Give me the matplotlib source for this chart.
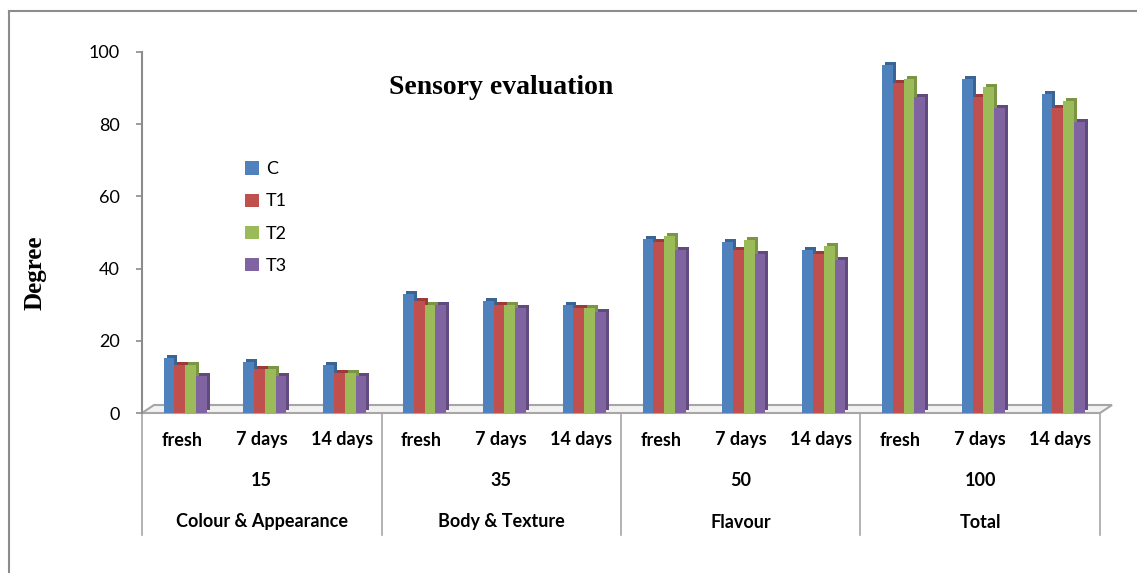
import matplotlib
matplotlib.use('Agg')
import matplotlib.pyplot as plt
import matplotlib.transforms as mtransforms
from matplotlib.lines import Line2D
from matplotlib.patches import Polygon
import numpy as np

# Sensory scores
groups = ['Colour & Appearance', 'Body & Texture', 'Flavour', 'Total']
max_scores = ['15', '35', '50', '100']
periods = ['fresh', '7 days', '14 days']
series_names = ['C', 'T1', 'T2', 'T3']

C = [15.2, 14.1, 13.3, 33.0, 30.9, 29.8, 48.2, 47.3, 45.2, 96.5, 92.5, 88.4]
T1 = [13.3, 12.2, 11.1, 30.9, 30.0, 29.1, 47.3, 45.2, 44.1, 91.4, 87.5, 84.5]
T2 = [13.3, 12.2, 11.1, 30.0, 30.0, 29.1, 49.1, 48.0, 46.3, 92.6, 90.3, 86.3]
T3 = [10.2, 10.2, 10.2, 30.0, 29.1, 28.0, 45.2, 44.1, 42.3, 87.5, 84.5, 80.5]

colors = ['#4F81BD', '#C0504D', '#9BBB59', '#8064A2']
dark = ['#3A6496', '#9A3B39', '#7A9645', '#614B7E']

W, H = 1137, 573
fig = plt.figure(figsize=(W / 100, H / 100), dpi=100)
fig.patch.set_facecolor('white')

# plot area in pixels: x 142..1100, y 52..413
ax = fig.add_axes([142 / W, 1 - 413 / H, 958 / W, 361 / H])
ax.set_facecolor('none')

n_cat = len(C)
x = np.arange(n_cat)
bw = 0.135
series = [C, T1, T2, T3]

# depth effect: a darker copy shifted up/right behind each bar
shift = mtransforms.offset_copy(ax.transData, fig=fig, x=3, y=3, units='dots')
for i, vals in enumerate(series):
    xs = x + (i - 1.5) * bw + 0.04
    ax.bar(xs, vals, width=bw, color=dark[i], transform=shift, zorder=2 + i * 2)
    ax.bar(xs, vals, width=bw, color=colors[i], label=series_names[i], zorder=3 + i * 2)

ax.set_xlim(-0.5, n_cat - 0.5)
ax.set_ylim(0, 100)
ax.set_yticks([0, 20, 40, 60, 80, 100])
ax.set_xticks([])
for s in ['top', 'right', 'bottom']:
    ax.spines[s].set_visible(False)
ax.spines['left'].set_color('#8C8C8C')
ax.spines['left'].set_linewidth(1.5)
ax.tick_params(axis='y', direction='out', length=4, width=1.2, color='#8C8C8C',
               pad=12, labelsize=13)
for lab in ax.get_yticklabels():
    lab.set_fontfamily('Lato')

# floor
fdx, fdy = 12 / 958, 8 / 361
floor = Polygon([(0, 0), (1, 0), (1 + fdx, fdy), (fdx, fdy)], closed=True,
                transform=ax.transAxes, facecolor='#F2F2F2', edgecolor='#A6A6A6',
                lw=1.5, clip_on=False, zorder=1)
ax.add_patch(floor)

# category labels below the axis
bt = mtransforms.blended_transform_factory(ax.transData, fig.transFigure)
for k in range(n_cat):
    ax.text(k, 1 - 440 / H, periods[k % 3], transform=bt, ha='center', va='center',
            fontsize=13, fontweight='bold', family='Lato')
for g in range(len(groups)):
    cx = g * 3 + 1
    ax.text(cx, 1 - 481 / H, max_scores[g], transform=bt, ha='center', va='center',
            fontsize=13, fontweight='bold', family='Lato')
    ax.text(cx, 1 - 522 / H, groups[g], transform=bt, ha='center', va='center',
            fontsize=13, fontweight='bold', family='Lato')
for b in [-0.5, 2.5, 5.5, 8.5, 11.5]:
    ax.add_line(Line2D([b, b], [1 - 413 / H, 1 - 535 / H], transform=bt,
                       color='#A6A6A6', lw=1.2, clip_on=False))

# title, axis label, legend
fig.text(501 / W, 1 - 88 / H, 'Sensory evaluation', ha='center', va='center',
         fontsize=20, fontweight='bold', family='Liberation Serif')
fig.text(35 / W, 1 - 273 / H, 'Degree', ha='center', va='center', rotation=90,
         fontsize=18, fontweight='bold', family='Liberation Serif')
leg = fig.legend(loc='upper left', bbox_to_anchor=(229 / W, 1 - 145 / H), frameon=False,
                 handlelength=0.75, handleheight=0.75, handletextpad=0.4,
                 labelspacing=0.9, prop={'family': 'Lato', 'size': 13})

# outer frame (top and left edges visible)
fig.add_artist(Line2D([9 / W, 1], [1 - 11 / H, 1 - 11 / H], transform=fig.transFigure,
                      color='#8C8C8C', lw=1.5))
fig.add_artist(Line2D([9 / W, 9 / W], [1 - 11 / H, 0], transform=fig.transFigure,
                      color='#8C8C8C', lw=1.5))

fig.savefig('out.png', dpi=100)
